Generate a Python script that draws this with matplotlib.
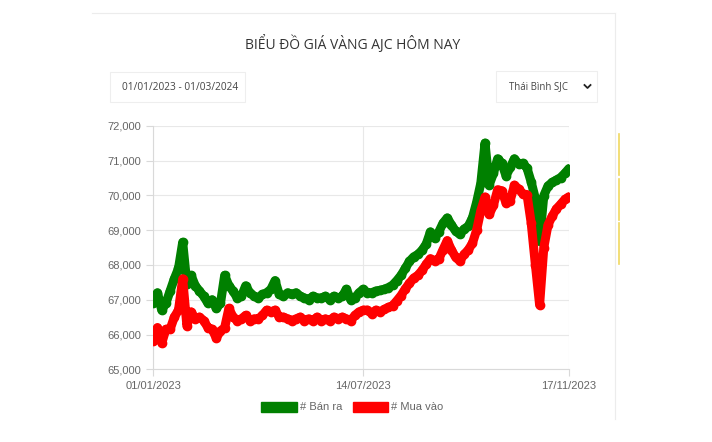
import matplotlib.pyplot as plt
import numpy as np
from matplotlib.patches import Rectangle, Patch
from matplotlib.lines import Line2D
from matplotlib.ticker import FuncFormatter

plt.rcParams['font.family'] = ['Liberation Sans', 'DejaVu Sans']

# data (evenly spaced samples along the category axis)
ban_ra = [
    66900, 67200, 66700, 66900, 67250, 67600, 67900, 68650, 67450, 67700,
    67400, 67250, 67100, 66900, 67000, 66750, 66900, 67700, 67400, 67250,
    67050, 67100, 67400, 67200, 67100, 67050, 67150, 67200, 67300, 67550,
    67150, 67100, 67200, 67150, 67200, 67100, 67050, 67000, 67100, 67050,
    67050, 67100, 67000, 67100, 67050, 67100, 67300, 67000, 67050, 67200,
    67300, 67200, 67200, 67250, 67270, 67300, 67350, 67420, 67550, 67700,
    67900, 68100, 68230, 68300, 68420, 68600, 68950, 68770, 68950, 69200,
    69350, 69150, 68970, 68880, 69030, 69110, 69350, 69800, 70350, 71500,
    70300, 70630, 71050, 70920, 70560, 70800, 71050, 70900, 70920, 70780,
    70380, 69900, 68700, 69990, 70270, 70370, 70440, 70510, 70630, 70770,
]
mua_vao = [
    65800, 66200, 65750, 66150, 66150, 66500, 66700, 67600, 66250, 66650,
    66450, 66500, 66400, 66200, 66150, 65900, 66100, 66200, 66750, 66500,
    66400, 66450, 66550, 66400, 66450, 66450, 66550, 66700, 66650, 66700,
    66500, 66500, 66450, 66400, 66450, 66500, 66400, 66450, 66400, 66500,
    66400, 66450, 66400, 66500, 66450, 66500, 66450, 66400, 66550, 66650,
    66700, 66700, 66600, 66700, 66650, 66720, 66780, 66830, 66970, 67120,
    67310, 67470, 67620, 67700, 67840, 68020, 68180, 68120, 68170, 68440,
    68700, 68430, 68220, 68110, 68300, 68430, 68620, 69000, 69560, 69950,
    69450, 69710, 70160, 70130, 69780, 69850, 70290, 70180, 70040, 70020,
    69200, 68000, 66850, 68500, 69150, 69400, 69610, 69740, 69880, 69960,
]
tick_labels = ['01/01/2023', '14/07/2023', '17/11/2023']
series_names = ['# Bán ra', '# Mua vào']
colors = ['#008000', '#ff0000']

fig = plt.figure(figsize=(7.12, 4.42), dpi=100)
fig.patch.set_facecolor('white')

W, H = 712, 442

# card borders
fig.add_artist(Line2D([92 / W, 615 / W], [1 - 13 / H, 1 - 13 / H], color='#ececec', lw=0.8))
fig.add_artist(Line2D([615 / W, 615 / W], [1 - 13 / H, 1 - 419 / H], color='#ececec', lw=0.8))
# yellow marks at right
for y0, y1 in [(134, 175), (179, 220), (223, 264)]:
    fig.add_artist(Line2D([618.5 / W, 618.5 / W], [1 - y0 / H, 1 - y1 / H], color='#f0d860', lw=1.2))

fig.text(353 / W, 1 - 43.5 / H, 'BIỂU ĐỒ GIÁ VÀNG AJC HÔM NAY', ha='center', va='center',
         fontsize=10, color='#333333', family=['Open Sans', 'DejaVu Sans'])

# date range box
fig.add_artist(Rectangle((110 / W, 1 - 102 / H), 135 / W, 30 / H, transform=fig.transFigure,
                         facecolor='white', edgecolor='#eeeeee', lw=0.8))
fig.text(180 / W, 1 - 87 / H, '01/01/2023 - 01/03/2024', ha='center', va='center',
         fontsize=7.3, color='#444444', family=['Open Sans', 'DejaVu Sans'])
# dropdown box
fig.add_artist(Rectangle((496 / W, 1 - 102 / H), 101 / W, 31 / H, transform=fig.transFigure,
                         facecolor='white', edgecolor='#eeeeee', lw=0.8))
fig.text(509.5 / W, 1 - 87 / H, 'Thái Bình SJC', ha='left', va='center',
         fontsize=6.9, color='#444444', family=['Open Sans', 'DejaVu Sans'])
fig.add_artist(Line2D([584.5 / W, 587.5 / W, 590.5 / W], [1 - 85 / H, 1 - 88 / H, 1 - 85 / H],
                      color='#222222', lw=1.3))

ax = fig.add_axes([153.3 / W, 1 - 369.3 / H, 415.7 / W, 243.6 / H])
x = np.arange(len(ban_ra))
ax.plot(x, ban_ra, color=colors[0], lw=6.5, marker='o', ms=6, zorder=3,
        solid_joinstyle='round', solid_capstyle='round')
ax.plot(x, mua_vao, color=colors[1], lw=6.5, marker='o', ms=6, zorder=4,
        solid_joinstyle='round', solid_capstyle='round')

ax.set_xlim(0, len(ban_ra) - 1)
ax.set_ylim(65000, 72000)
ax.set_yticks(np.arange(65000, 72001, 1000))
ax.yaxis.set_major_formatter(FuncFormatter(lambda v, p: f'{int(v):,}'))
ax.set_xticks([0, len(ban_ra) // 2, len(ban_ra) - 1])
ax.set_xticklabels(tick_labels)

ax.grid(True, color='#e8e8e8', lw=0.8)
ax.set_axisbelow(True)
for side in ['top', 'right']:
    ax.spines[side].set_visible(False)
for side in ['left', 'bottom']:
    ax.spines[side].set_color('#d9d9d9')
ax.tick_params(colors='#d9d9d9', labelcolor='#666666', labelsize=8, length=5)

handles = [Patch(facecolor=c, edgecolor=c, label=n) for c, n in zip(colors, series_names)]
fig.legend(handles=handles, loc='center', bbox_to_anchor=(352.5 / W, 1 - 407 / H), ncol=2,
           frameon=False, fontsize=8, labelcolor='#666666', handlelength=3.2,
           handleheight=1.0, handletextpad=0.3, columnspacing=0.9)

fig.savefig('out.png', dpi=100)
